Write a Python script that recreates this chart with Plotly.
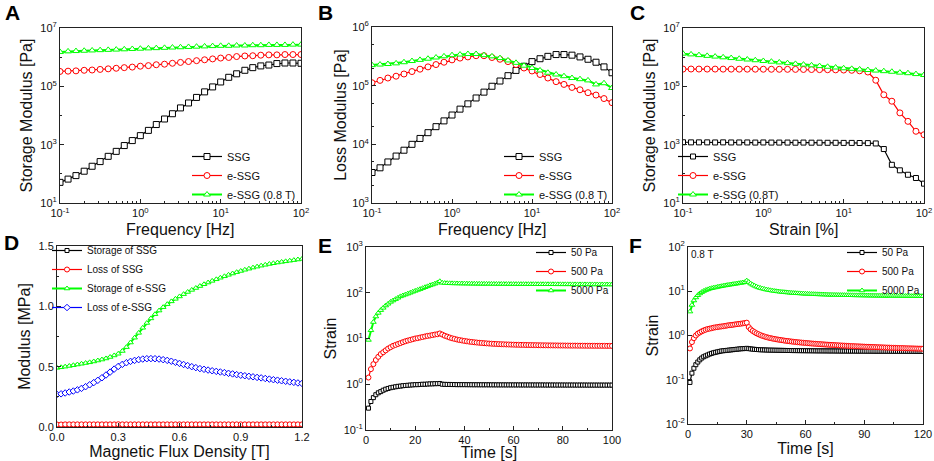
import plotly.graph_objects as go
from plotly.subplots import make_subplots

# ---- A / B / C : frequency & strain sweeps ----
freq = [0.1, 0.126, 0.158, 0.2, 0.251, 0.316, 0.398, 0.501, 0.631, 0.794,
        1, 1.26, 1.58, 2.0, 2.51, 3.16, 3.98, 5.01, 6.31, 7.94,
        10, 12.6, 15.8, 20, 25.1, 31.6, 39.8, 50.1, 63.1, 79.4, 100]
strain_pct = freq

storage_ssg = [51, 66, 87, 123, 182, 263, 398, 589, 933, 1380,
               2040, 3090, 4900, 7590, 11500, 18200, 26900, 41700, 64600, 95500,
               141000, 204000, 269000, 355000, 437000, 501000, 537000, 603000, 631000, 631000, 617000]
storage_essg = [324000, 331000, 339000, 355000, 363000, 380000, 398000, 417000, 437000, 457000,
                490000, 513000, 550000, 575000, 617000, 661000, 708000, 759000, 813000, 871000,
                933000, 977000, 1050000, 1100000, 1120000, 1170000, 1200000, 1200000, 1230000, 1230000, 1230000]
storage_essg_08 = [1510000, 1580000, 1620000, 1660000, 1700000, 1740000, 1780000, 1820000, 1860000, 1910000,
                   1950000, 2000000, 2040000, 2090000, 2140000, 2190000, 2240000, 2290000, 2340000, 2400000,
                   2450000, 2450000, 2510000, 2510000, 2570000, 2570000, 2630000, 2630000, 2630000, 2690000, 2690000]

loss_ssg = [3310, 3980, 5010, 6310, 7940, 10000, 12600, 15800, 20000, 25100,
            31600, 39800, 49000, 61700, 77600, 97700, 120000, 148000, 182000, 214000,
            257000, 288000, 316000, 339000, 339000, 331000, 309000, 282000, 251000, 209000, 166000]
loss_essg = [112000, 123000, 135000, 145000, 158000, 174000, 191000, 209000, 229000, 251000,
             275000, 295000, 309000, 324000, 324000, 302000, 282000, 257000, 229000, 200000,
             178000, 155000, 135000, 117000, 105000, 93300, 85100, 75900, 69200, 60300, 51300]
loss_essg_08 = [224000, 229000, 234000, 240000, 251000, 263000, 275000, 288000, 302000, 316000,
                331000, 339000, 347000, 347000, 331000, 316000, 295000, 269000, 245000, 219000,
                200000, 182000, 166000, 155000, 145000, 135000, 129000, 123000, 105000, 110000, 91200]

amp_ssg = [1210, 1200, 1200, 1200, 1190, 1200, 1190, 1190, 1190, 1180,
           1190, 1180, 1180, 1180, 1170, 1180, 1170, 1170, 1160, 1160,
           1150, 1150, 1140, 1130, 1100, 708, 204, 132, 93, 72, 46]
amp_essg = [390000, 392000, 391000, 390000, 390000, 389000, 389000, 388000, 388000, 387000,
            386000, 385000, 384000, 383000, 381000, 379000, 377000, 374000, 371000, 367000,
            362000, 355000, 340000, 310000, 162000, 51300, 30900, 12300, 6310, 2880, 2190]
amp_essg_08 = [1320000, 1245000, 1175000, 1109000, 1047000, 989000, 933000, 881000, 832000, 785000,
               741000, 700000, 661000, 624000, 589000, 556000, 525000, 495000, 468000, 442000,
               417000, 398000, 380000, 363000, 347000, 331000, 316000, 295000, 282000, 263000, 245000]

# ---- D : magnetic field sweep ----
field = [round(i * 0.02, 2) for i in range(61)]
d_storage_ssg = [0.004, 0.004, 0.004, 0.004, 0.004, 0.004, 0.004, 0.004, 0.004, 0.004,
                 0.004, 0.004, 0.004, 0.004, 0.004, 0.004, 0.005, 0.004, 0.004, 0.004,
                 0.004, 0.004, 0.004, 0.004, 0.004, 0.004, 0.004, 0.004, 0.004, 0.004,
                 0.004, 0.004, 0.004, 0.004, 0.004, 0.004, 0.004, 0.004, 0.004, 0.004,
                 0.004, 0.004, 0.004, 0.004, 0.004, 0.004, 0.004, 0.004, 0.004, 0.004,
                 0.004, 0.004, 0.004, 0.004, 0.004, 0.004, 0.004, 0.004, 0.004, 0.004, 0.004]
d_loss_ssg = [0.021, 0.021, 0.022, 0.022, 0.022, 0.022, 0.022, 0.022, 0.022, 0.022,
              0.022, 0.022, 0.022, 0.022, 0.022, 0.023, 0.022, 0.022, 0.022, 0.022,
              0.022, 0.022, 0.022, 0.022, 0.022, 0.022, 0.022, 0.022, 0.022, 0.022,
              0.022, 0.022, 0.022, 0.022, 0.022, 0.022, 0.022, 0.022, 0.022, 0.022,
              0.022, 0.022, 0.022, 0.022, 0.022, 0.022, 0.022, 0.022, 0.022, 0.022,
              0.022, 0.022, 0.022, 0.022, 0.022, 0.022, 0.022, 0.022, 0.022, 0.022, 0.022]
d_storage_essg = [0.490, 0.495, 0.500, 0.506, 0.512, 0.518, 0.524, 0.530, 0.536, 0.543,
                  0.551, 0.559, 0.568, 0.580, 0.593, 0.607, 0.630, 0.662, 0.700, 0.740,
                  0.780, 0.822, 0.862, 0.900, 0.935, 0.965, 0.993, 1.018, 1.041, 1.062,
                  1.082, 1.101, 1.119, 1.136, 1.152, 1.168, 1.183, 1.197, 1.211, 1.224,
                  1.237, 1.249, 1.261, 1.272, 1.283, 1.293, 1.303, 1.312, 1.321, 1.329,
                  1.337, 1.344, 1.351, 1.357, 1.363, 1.368, 1.373, 1.378, 1.383, 1.388, 1.393]
d_loss_essg = [0.270, 0.275, 0.282, 0.290, 0.298, 0.308, 0.320, 0.334, 0.350, 0.368,
               0.387, 0.408, 0.431, 0.455, 0.480, 0.502, 0.519, 0.533, 0.544, 0.552,
               0.558, 0.563, 0.566, 0.567, 0.566, 0.563, 0.558, 0.552, 0.545, 0.536,
               0.527, 0.518, 0.509, 0.500, 0.492, 0.484, 0.478, 0.472, 0.466, 0.461,
               0.456, 0.451, 0.445, 0.440, 0.434, 0.429, 0.425, 0.420, 0.416, 0.411,
               0.407, 0.402, 0.397, 0.392, 0.388, 0.383, 0.379, 0.374, 0.370, 0.365, 0.361]

# ---- E : creep-recovery, no field ----
time_e = list(range(1, 101))
e_50 = [0.30, 0.42, 0.51, 0.59, 0.65, 0.69, 0.74, 0.78, 0.81, 0.84,
        0.86, 0.88, 0.90, 0.91, 0.93, 0.94, 0.95, 0.96, 0.97, 0.98,
        0.98, 0.99, 1.00, 1.00, 1.01, 1.02, 1.02, 1.03, 1.03, 1.04,
        1.00, 0.995, 0.99, 0.99, 0.985, 0.985, 0.98, 0.98, 0.98, 0.98,
        0.978, 0.977, 0.976, 0.975, 0.975, 0.974, 0.973, 0.973, 0.972, 0.972,
        0.971, 0.971, 0.970, 0.970, 0.969, 0.969, 0.968, 0.968, 0.968, 0.967,
        0.967, 0.967, 0.966, 0.966, 0.966, 0.965, 0.965, 0.965, 0.964, 0.964,
        0.964, 0.964, 0.963, 0.963, 0.963, 0.963, 0.962, 0.962, 0.962, 0.962,
        0.961, 0.961, 0.961, 0.961, 0.960, 0.960, 0.960, 0.960, 0.960, 0.959,
        0.959, 0.959, 0.959, 0.959, 0.958, 0.958, 0.958, 0.958, 0.958, 0.957]
e_500 = [1.40, 2.14, 2.75, 3.39, 3.98, 4.57, 5.01, 5.50, 6.03, 6.46,
         6.92, 7.24, 7.59, 7.94, 8.32, 8.71, 9.02, 9.33, 9.66, 10.0,
         10.2, 10.5, 10.8, 11.1, 11.4, 11.6, 11.9, 12.2, 12.4, 12.9,
         12.2, 11.5, 11.0, 10.5, 10.1, 9.8, 9.5, 9.25, 9.05, 8.85,
         8.68, 8.53, 8.4, 8.28, 8.17, 8.07, 7.98, 7.9, 7.83, 7.76,
         7.7, 7.64, 7.59, 7.54, 7.5, 7.46, 7.42, 7.39, 7.36, 7.33,
         7.3, 7.28, 7.26, 7.24, 7.22, 7.2, 7.18, 7.16, 7.15, 7.13,
         7.12, 7.1, 7.09, 7.08, 7.07, 7.06, 7.05, 7.04, 7.03, 7.02,
         7.01, 7.0, 6.99, 6.98, 6.98, 6.97, 6.96, 6.96, 6.95, 6.94,
         6.94, 6.93, 6.93, 6.92, 6.92, 6.91, 6.91, 6.9, 6.9, 6.89]
e_5000 = [9.3, 15.1, 22.9, 30.2, 36.3, 41.7, 46.8, 52.5, 57.5, 63.1,
          67.6, 72.4, 77.6, 83.2, 87.1, 91.2, 95.5, 100, 105, 110,
          115, 120, 126, 132, 138, 145, 151, 158, 166, 178,
          165, 163, 162, 161, 160.5, 160, 159.6, 159.2, 158.9, 158.6,
          158.3, 158, 157.8, 157.5, 157.3, 157.1, 156.9, 156.7, 156.5, 156.3,
          156.1, 155.9, 155.8, 155.6, 155.5, 155.3, 155.2, 155, 154.9, 154.8,
          154.6, 154.5, 154.4, 154.3, 154.2, 154.1, 154, 153.9, 153.8, 153.7,
          153.6, 153.5, 153.4, 153.3, 153.2, 153.2, 153.1, 153, 152.9, 152.8,
          152.8, 152.7, 152.6, 152.5, 152.5, 152.4, 152.3, 152.3, 152.2, 152.1,
          152.1, 152, 151.9, 151.9, 151.8, 151.8, 151.7, 151.6, 151.6, 151.5]

# ---- F : creep-recovery at 0.8 T ----
time_f = list(range(1, 121))
f_50 = [0.087, 0.141, 0.182, 0.219, 0.251, 0.282, 0.309, 0.331, 0.347, 0.363,
        0.380, 0.394, 0.407, 0.417, 0.427, 0.437, 0.447, 0.452, 0.457, 0.462,
        0.468, 0.473, 0.479, 0.484, 0.490, 0.495, 0.501, 0.504, 0.507, 0.513,
        0.505, 0.498, 0.492, 0.487, 0.483, 0.479, 0.476, 0.474, 0.472, 0.470,
        0.468, 0.467, 0.466, 0.465, 0.464, 0.463, 0.462, 0.461, 0.460, 0.459,
        0.458, 0.458, 0.457, 0.456, 0.456, 0.455, 0.455, 0.454, 0.454, 0.453,
        0.453, 0.452, 0.452, 0.451, 0.451, 0.450, 0.450, 0.450, 0.449, 0.449,
        0.449, 0.448, 0.448, 0.448, 0.447, 0.447, 0.447, 0.446, 0.446, 0.446,
        0.446, 0.445, 0.445, 0.445, 0.445, 0.444, 0.444, 0.444, 0.444, 0.443,
        0.443, 0.443, 0.443, 0.443, 0.442, 0.442, 0.442, 0.442, 0.442, 0.441,
        0.441, 0.441, 0.441, 0.441, 0.440, 0.440, 0.440, 0.440, 0.440, 0.440,
        0.439, 0.439, 0.439, 0.439, 0.439, 0.438, 0.438, 0.438, 0.438, 0.438]
f_500 = [0.51, 0.71, 0.87, 1.00, 1.10, 1.17, 1.24, 1.30, 1.35, 1.40,
         1.43, 1.46, 1.50, 1.53, 1.55, 1.58, 1.60, 1.62, 1.65, 1.68,
         1.71, 1.73, 1.75, 1.78, 1.80, 1.83, 1.85, 1.88, 1.91, 1.95,
         1.55, 1.38, 1.27, 1.19, 1.12, 1.07, 1.02, 0.98, 0.95, 0.92,
         0.895, 0.875, 0.855, 0.838, 0.822, 0.808, 0.795, 0.782, 0.77, 0.759,
         0.749, 0.739, 0.73, 0.721, 0.713, 0.705, 0.698, 0.691, 0.684, 0.678,
         0.672, 0.666, 0.66, 0.655, 0.65, 0.645, 0.64, 0.635, 0.631, 0.626,
         0.622, 0.618, 0.614, 0.61, 0.606, 0.602, 0.599, 0.595, 0.592, 0.589,
         0.585, 0.582, 0.579, 0.576, 0.573, 0.57, 0.568, 0.565, 0.562, 0.56,
         0.557, 0.555, 0.552, 0.55, 0.548, 0.545, 0.543, 0.541, 0.539, 0.537,
         0.535, 0.533, 0.531, 0.529, 0.527, 0.525, 0.523, 0.521, 0.52, 0.518,
         0.516, 0.514, 0.513, 0.511, 0.51, 0.508, 0.507, 0.505, 0.504, 0.502]
f_5000 = [3.47, 4.90, 6.17, 7.24, 8.13, 8.91, 9.55, 10.1, 10.6, 11.0,
          11.4, 11.7, 12.0, 12.2, 12.5, 12.8, 13.0, 13.3, 13.5, 13.8,
          14.0, 14.2, 14.5, 14.7, 14.9, 15.2, 15.4, 15.7, 16.0, 17.4,
          16.2, 14.9, 14.0, 13.3, 12.7, 12.2, 11.8, 11.5, 11.2, 10.9,
          10.7, 10.5, 10.3, 10.15, 10.0, 9.87, 9.75, 9.64, 9.54, 9.44,
          9.35, 9.27, 9.19, 9.12, 9.05, 8.99, 8.93, 8.87, 8.82, 8.77,
          8.72, 8.68, 8.64, 8.6, 8.56, 8.52, 8.49, 8.46, 8.43, 8.4,
          8.37, 8.34, 8.32, 8.29, 8.27, 8.25, 8.23, 8.21, 8.19, 8.17,
          8.15, 8.13, 8.12, 8.1, 8.08, 8.07, 8.05, 8.04, 8.02, 8.01,
          8.0, 7.98, 7.97, 7.96, 7.95, 7.94, 7.93, 7.92, 7.91, 7.9,
          7.89, 7.88, 7.87, 7.86, 7.85, 7.84, 7.83, 7.83, 7.82, 7.81,
          7.8, 7.8, 7.79, 7.78, 7.78, 7.77, 7.76, 7.76, 7.75, 7.74]

# tick labels for the log axes
exp_x_vals = [0.1, 1, 10, 100]
exp_x_text = ["10<sup>-1</sup>", "10<sup>0</sup>", "10<sup>1</sup>", "10<sup>2</sup>"]
exp_a_vals = [10, 1e3, 1e5, 1e7]
exp_a_text = ["10<sup>1</sup>", "10<sup>3</sup>", "10<sup>5</sup>", "10<sup>7</sup>"]
exp_b_vals = [1e3, 1e4, 1e5, 1e6]
exp_b_text = ["10<sup>3</sup>", "10<sup>4</sup>", "10<sup>5</sup>", "10<sup>6</sup>"]
exp_e_vals = [0.1, 1, 10, 100, 1000]
exp_e_text = ["10<sup>-1</sup>", "10<sup>0</sup>", "10<sup>1</sup>", "10<sup>2</sup>", "10<sup>3</sup>"]
exp_f_vals = [0.01, 0.1, 1, 10, 100]
exp_f_text = ["10<sup>-2</sup>", "10<sup>-1</sup>", "10<sup>0</sup>", "10<sup>1</sup>", "10<sup>2</sup>"]

BLACK = "#000000"
RED = "#ff0000"
GREEN = "#00ff00"
BLUE = "#0000ff"
FONT = "Liberation Sans, Arial, sans-serif"

fig = make_subplots(rows=2, cols=3)


def add(x, y, name, color, symbol, row, col, legend, size=6, lw=1.2):
    fig.add_trace(go.Scatter(
        x=x, y=y, name=name, mode="lines+markers", legend=legend,
        line=dict(color=color, width=lw),
        marker=dict(symbol=symbol, size=size, color="white",
                    line=dict(color=color, width=1)),
    ), row=row, col=col)


add(freq, storage_ssg, "SSG", BLACK, "square", 1, 1, "legend")
add(freq, storage_essg, "e-SSG", RED, "circle", 1, 1, "legend")
add(freq, storage_essg_08, "e-SSG (0.8 T)", GREEN, "triangle-up", 1, 1, "legend", lw=2)

add(freq, loss_ssg, "SSG", BLACK, "square", 1, 2, "legend2")
add(freq, loss_essg, "e-SSG", RED, "circle", 1, 2, "legend2")
add(freq, loss_essg_08, "e-SSG (0.8 T)", GREEN, "triangle-up", 1, 2, "legend2", lw=2)

add(strain_pct, amp_ssg, "SSG", BLACK, "square", 1, 3, "legend3", size=5)
add(strain_pct, amp_essg, "e-SSG", RED, "circle", 1, 3, "legend3")
add(strain_pct, amp_essg_08, "e-SSG (0.8T)", GREEN, "triangle-up", 1, 3, "legend3", lw=2)

add(field, d_storage_ssg, "Storage of SSG", BLACK, "square", 2, 1, "legend4", size=4)
add(field, d_loss_ssg, "Loss of SSG", RED, "circle", 2, 1, "legend4", size=5)
add(field, d_storage_essg, "Storage of e-SSG", GREEN, "triangle-up", 2, 1, "legend4", size=5, lw=2)
add(field, d_loss_essg, "Loss of e-SSG", BLUE, "diamond", 2, 1, "legend4", size=5)

add(time_e, e_50, "50 Pa", BLACK, "square", 2, 2, "legend5", size=4)
add(time_e, e_500, "500 Pa", RED, "circle", 2, 2, "legend5", size=5)
add(time_e, e_5000, "5000 Pa", GREEN, "triangle-up", 2, 2, "legend5", size=5, lw=2)

add(time_f, f_50, "50 Pa", BLACK, "square", 2, 3, "legend6", size=4)
add(time_f, f_500, "500 Pa", RED, "circle", 2, 3, "legend6", size=5)
add(time_f, f_5000, "5000 Pa", GREEN, "triangle-up", 2, 3, "legend6", size=5, lw=2)

W, H = 934, 461


def px(x):
    return x / W


def py(y):
    return 1 - y / H


def dom(x0, x1, y0, y1):
    return [px(x0), px(x1)], [py(y1), py(y0)]


frame = dict(showline=True, mirror=True, linecolor="#222", linewidth=1,
             ticks="inside", ticklen=4, tickcolor="#222", showgrid=False,
             zeroline=False, automargin=False,
             tickfont=dict(size=11, family=FONT, color="#111"),
             title_font=dict(size=16, family=FONT, color="#111"))

log_minor_x = dict(ticks="inside", ticklen=2, tickcolor="#222",
                   tickvals=[m * 10 ** e for e in (-1, 0, 1) for m in range(2, 10)])

panels = [
    (1, (60, 301, 28, 203)),
    (2, (372, 612, 27, 203)),
    (3, (683, 924, 28, 203)),
    (4, (57, 302, 246, 427)),
    (5, (366, 612, 247, 430)),
    (6, (688, 923, 247, 424)),
]
for i, box in panels:
    xd, yd = dom(*box)
    fig.layout["xaxis%d" % i].update(domain=xd, **frame)
    fig.layout["yaxis%d" % i].update(domain=yd, **frame)

fig.update_layout(
    xaxis=dict(type="log", range=[-1, 2], tickvals=exp_x_vals, ticktext=exp_x_text,
               minor=log_minor_x),
    yaxis=dict(type="log", range=[1, 7], tickvals=exp_a_vals, ticktext=exp_a_text,
               minor=dict(ticks="inside", ticklen=2, tickvals=[100, 1e4, 1e6]),
               title=dict(text="Storage Modulus [Pa]", standoff=3)),
    xaxis2=dict(type="log", range=[-1, 2], tickvals=exp_x_vals, ticktext=exp_x_text,
                minor=log_minor_x),
    yaxis2=dict(type="log", range=[3, 6], tickvals=exp_b_vals, ticktext=exp_b_text,
                minor=dict(ticks="inside", ticklen=2,
                           tickvals=[m * 10 ** e for e in (3, 4, 5) for m in (2, 5)]),
                title=dict(text="Loss Modulus [Pa]", standoff=1)),
    xaxis3=dict(type="log", range=[-1, 2], tickvals=exp_x_vals, ticktext=exp_x_text,
                minor=log_minor_x),
    yaxis3=dict(type="log", range=[1, 7], tickvals=exp_a_vals, ticktext=exp_a_text,
                minor=dict(ticks="inside", ticklen=2, tickvals=[100, 1e4, 1e6]),
                title=dict(text="Storage Modulus [Pa]", standoff=3)),
    xaxis4=dict(range=[0, 1.2], tickvals=[0, 0.3, 0.6, 0.9, 1.2], tickformat=".1f",
                minor=dict(ticks="inside", ticklen=2, dtick=0.15),
                title=dict(text="Magnetic Flux Density [T]", standoff=0)),
    yaxis4=dict(range=[0, 1.5], tickvals=[0, 0.5, 1.0, 1.5], tickformat=".1f",
                minor=dict(ticks="inside", ticklen=2, dtick=0.25),
                title=dict(text="Modulus [MPa]", standoff=3)),
    xaxis5=dict(range=[0, 100], dtick=20,
                minor=dict(ticks="inside", ticklen=2, dtick=10),
                title=dict(text="Time [s]", standoff=0)),
    yaxis5=dict(type="log", range=[-1, 3], tickvals=exp_e_vals, ticktext=exp_e_text,
                title=dict(text="Strain", standoff=3)),
    xaxis6=dict(range=[0, 120], dtick=30,
                minor=dict(ticks="inside", ticklen=2, dtick=15),
                title=dict(text="Time [s]", standoff=0)),
    yaxis6=dict(type="log", range=[-2, 2], tickvals=exp_f_vals, ticktext=exp_f_text,
                title=dict(text="Strain", standoff=3)),
)

# top-row x titles, placed by hand just under the superscript tick labels
for txt, cx in [("Frequency [Hz]", 180), ("Frequency [Hz]", 492), ("Strain [%]", 803)]:
    fig.add_annotation(text=txt, x=px(cx), y=py(229), xref="paper", yref="paper",
                       xanchor="center", yanchor="middle", showarrow=False,
                       font=dict(size=16, family=FONT, color="#111"))

leg = dict(bgcolor="rgba(0,0,0,0)", borderwidth=0, itemwidth=30, tracegroupgap=0)
font11 = dict(size=11, family=FONT, color="#111")
font10 = dict(size=10, family=FONT, color="#111")
fig.update_layout(
    legend=dict(x=px(187), y=py(142), xanchor="left", yanchor="top", font=font11, **leg),
    legend2=dict(x=px(499), y=py(142), xanchor="left", yanchor="top", font=font11, **leg),
    legend3=dict(x=px(673), y=py(142), xanchor="left", yanchor="top", font=font11, **leg),
    legend4=dict(x=px(47), y=py(236), xanchor="left", yanchor="top", font=font10, **leg),
    legend5=dict(x=px(614), y=py(238), xanchor="right", yanchor="top", font=font10, **leg),
    legend6=dict(x=px(925), y=py(238), xanchor="right", yanchor="top", font=font10, **leg),
)

letters = [("A", 3, 13), ("B", 316, 13), ("C", 628, 13),
           ("D", 2, 243), ("E", 316, 246), ("F", 627, 246)]
for txt, lx, ly in letters:
    fig.add_annotation(text="<b>%s</b>" % txt, x=px(lx), y=py(ly), xref="paper", yref="paper",
                       xanchor="left", yanchor="middle", showarrow=False,
                       font=dict(size=21, family=FONT, color="#000"))
fig.add_annotation(text="0.8 T", x=px(689), y=py(254), xref="paper", yref="paper",
                   xanchor="left", yanchor="middle", showarrow=False,
                   font=dict(size=10, family=FONT, color="#111"))

fig.update_layout(width=W, height=H, margin=dict(l=0, r=0, t=0, b=0),
                  paper_bgcolor="white", plot_bgcolor="white", showlegend=True,
                  font=dict(family=FONT))

# drop the browser's default 8 px body margin so the figure fills the window exactly
fig.write_html("out.html", config={"displayModeBar": False},
               post_script="document.body.style.margin = '0';")
